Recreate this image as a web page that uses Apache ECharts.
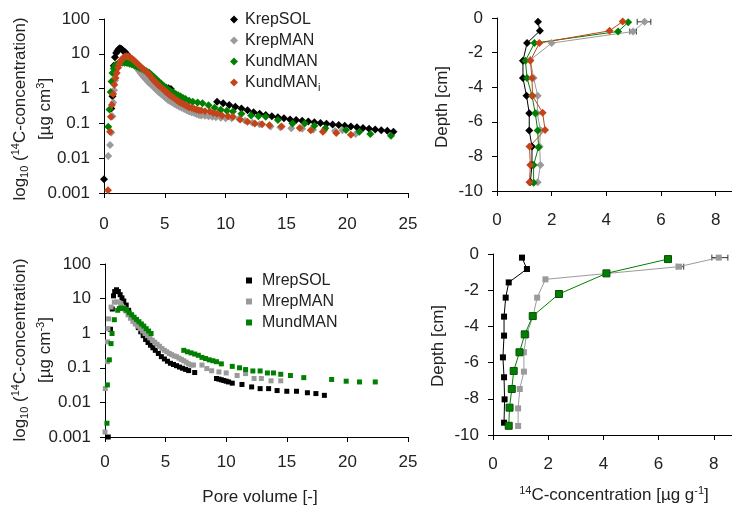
<!DOCTYPE html>
<html>
<head>
<meta charset="utf-8">
<script src="https://cdn.jsdelivr.net/npm/echarts@6/dist/echarts.min.js"></script>
<style>html,body{margin:0;padding:0;background:#fff}#c{width:732px;height:506px}</style>
</head>
<body>
<div id="c"></div>
<script>
// ---------- DATA ----------
// Top-left: pore volume vs concentration (log)
const krepSOL_pv = [[0,0.0025],[0.6,0.27],[0.7,0.6],[0.8,4.5],[0.9,8],[1.0,10.5],[1.1,12],[1.2,13.5],[1.3,14.5],[1.4,14],[1.5,13],[1.6,12],[1.75,11],[1.9,9.5],[2.1,8],[2.3,6.8],[2.5,5.6],[2.7,4.6],[2.9,3.9],[3.1,3.3],[3.3,2.8],[3.5,2.4],[3.7,2.1],[3.9,1.85],[4.1,1.65],[4.3,1.5],[4.5,1.35],[4.7,1.25],[4.9,1.15],[5.1,1.08],[5.3,1.02],[5.5,0.97],
  [9.3,0.42],[9.8,0.38],[10.3,0.34],[10.8,0.3],[11.3,0.27],[11.8,0.24],[12.3,0.21],[12.8,0.19],[13.3,0.175],[13.8,0.16],[14.3,0.15],[14.8,0.14],[15.3,0.13],[15.8,0.125],[16.3,0.12],[16.8,0.113],[17.3,0.108],[17.8,0.103],[18.3,0.098],[18.8,0.093],[19.3,0.09],[19.8,0.086],[20.3,0.082],[20.8,0.078],[21.3,0.074],[21.8,0.07],[22.3,0.067],[22.8,0.064],[23.3,0.061],[23.8,0.058]];
const krepMAN_pv = [[0.35,0.0115],[0.5,0.024],[0.6,0.055],[0.7,0.16],[0.76,0.4],[0.83,0.9],[0.9,1.7],[1.0,2.8],[1.1,3.9],[1.2,4.9],[1.3,5.7],[1.45,6.4],[1.6,6.9],[1.8,7.1],[1.95,6.9],[2.1,6.4],[2.25,5.8],[2.4,5.2],[2.55,4.6],[2.7,4.0],[2.85,3.3],[3.0,2.8],[3.15,2.4],[3.3,2.1],[3.45,1.85],[3.6,1.6],[3.75,1.42],[3.9,1.27],[4.05,1.15],[4.2,1.0],[4.35,0.9],[4.5,0.8],[4.65,0.72],[4.8,0.65],[4.95,0.59],[5.1,0.53],[5.25,0.48],[5.4,0.44],[5.6,0.4],[5.8,0.36],[6.0,0.33],[6.2,0.3],[6.4,0.28],[6.6,0.26],[6.8,0.24],[7.0,0.22],[7.2,0.21],[7.4,0.2],[7.6,0.185],[7.8,0.175],[8.0,0.17],[8.3,0.165],[8.6,0.16],[8.9,0.155],[9.2,0.15],[9.6,0.145],[10.0,0.14],[10.5,0.14],[11.1,0.135],[11.6,0.12],[12.2,0.105],[12.8,0.095],[13.7,0.082],[14.5,0.078],[15.4,0.072],[16.3,0.07],[17.2,0.066],[18.1,0.062],[19.0,0.06],[19.6,0.064],[20.7,0.05]];
const kundMAN_pv = [[0.35,0.08],[0.45,0.25],[0.55,0.8],[0.62,1.6],[0.7,2.8],[0.8,3.8],[0.9,4.5],[1.0,4.9],[1.15,5.2],[1.3,5.4],[1.5,5.5],[1.7,5.5],[1.9,5.4],[2.1,5.2],[2.3,4.9],[2.5,4.6],[2.7,4.3],[2.9,4.0],[3.1,3.7],[3.3,3.4],[3.5,3.15],[3.7,2.9],[3.9,2.5],[4.1,2.15],[4.3,1.85],[4.5,1.6],[4.7,1.4],[4.9,1.2],[5.1,1.05],[5.3,0.93],[5.5,0.84],[5.7,0.77],[5.9,0.7],[6.1,0.64],[6.3,0.59],[6.5,0.54],[6.7,0.5],[7.0,0.45],[7.3,0.42],[7.7,0.4],[8.1,0.38],[8.6,0.33],[9.1,0.28],[9.6,0.245],[10.1,0.23],[10.6,0.22],[11.3,0.19],[12.1,0.17],[12.7,0.16],[13.3,0.155],[14.3,0.126],[15.5,0.10],[16.5,0.10],[17.3,0.085],[18.2,0.073],[19.9,0.065],[21.0,0.058],[21.9,0.05],[23.6,0.044]];
const kundMANi_pv = [[0.33,0.0012],[0.5,0.058],[0.57,0.155],[0.65,0.34],[0.75,0.7],[0.85,1.3],[0.95,2.0],[1.05,2.8],[1.15,4.0],[1.25,5.0],[1.35,6.0],[1.45,6.8],[1.55,7.5],[1.7,8.2],[1.85,8.5],[2.0,8.3],[2.15,7.8],[2.3,7.2],[2.45,6.5],[2.6,5.8],[2.75,5.2],[2.9,4.6],[3.05,4.1],[3.2,3.7],[3.4,3.2],[3.6,2.8],[3.8,2.3],[4.0,1.9],[4.15,1.65],[4.3,1.45],[4.45,1.3],[4.6,1.15],[4.8,1.0],[5.0,0.87],[5.15,0.78],[5.3,0.7],[5.45,0.63],[5.6,0.58],[5.8,0.52],[6.0,0.46],[6.15,0.42],[6.3,0.39],[6.5,0.36],[6.7,0.33],[6.85,0.31],[7.0,0.29],[7.2,0.28],[7.4,0.265],[7.6,0.25],[7.8,0.24],[8.0,0.235],[8.3,0.225],[8.7,0.22],[9.0,0.2],[9.3,0.19],[9.7,0.17],[10.2,0.16],[10.6,0.155],[11.2,0.13],[11.8,0.112],[12.4,0.1],[13.0,0.095],[13.6,0.089],[14.6,0.082],[16.1,0.074],[17.0,0.064],[18.0,0.058],[19.1,0.053],[20.3,0.047]];

// Top-right: concentration vs depth
const krepSOL_d = [[1.5,-0.22],[1.57,-0.74],[1.1,-1.45],[0.95,-2.47],[0.95,-3.47],[1.08,-4.5],[1.18,-5.5],[1.18,-6.5],[1.28,-7.43],[1.28,-8.5],[1.22,-9.48]];
const krepMAN_d = [[5.4,-0.22],[4.98,-0.78],[2.0,-1.45],[1.22,-2.42],[1.34,-3.47],[1.49,-4.5],[1.47,-5.5],[1.59,-6.47],[1.56,-7.43],[1.59,-8.5],[1.49,-9.5]];
const kundMAN_d = [[4.8,-0.25],[4.43,-0.78],[1.37,-1.45],[1.04,-2.47],[1.1,-3.47],[1.28,-4.5],[1.4,-5.5],[1.49,-6.5],[1.52,-7.47],[1.34,-8.5],[1.34,-9.52]];
const kundMANi_d = [[4.6,-0.2],[4.12,-0.74],[1.55,-1.45],[1.22,-2.47],[1.28,-3.47],[1.3,-4.5],[1.67,-5.47],[1.76,-6.47],[1.19,-7.43],[1.22,-8.5],[1.19,-9.5]];
const krepMAN_err = [[-0.22,5.13,5.63],[-0.78,4.86,5.1]];

// Bottom-left: pore volume vs concentration (log)
const mrepSOL_pv = [[0.27,0.001],[0.45,1.3],[0.6,5],[0.7,12],[0.8,16],[0.95,18],[1.1,16],[1.25,13],[1.4,10.5],[1.55,8.5],[1.75,6.5],[1.95,4.6],[2.15,3.3],[2.35,2.5],[2.55,1.9],[2.75,1.45],[2.95,1.1],[3.15,0.85],[3.35,0.66],[3.55,0.54],[3.75,0.45],[3.95,0.38],[4.15,0.32],[4.4,0.26],[4.65,0.21],[4.9,0.18],[5.15,0.155],[5.4,0.135],[5.65,0.125],[5.9,0.115],[6.15,0.105],[6.4,0.097],[6.65,0.09],[6.9,0.083],[7.4,0.073],
  [9.2,0.049],[9.4,0.047],[9.6,0.045],[9.8,0.043],[10.0,0.041],[10.2,0.039],[10.5,0.036],[11.3,0.033],[12.1,0.028],[12.8,0.025],[13.5,0.025],[14.2,0.022],[15.0,0.021],[15.8,0.021],[16.7,0.019],[17.4,0.018],[18.1,0.016]];
const mrepMAN_pv = [[0,0.0014],[0.02,0.025],[0.2,0.15],[0.2,0.56],[0.25,1.35],[0.3,2.6],[0.5,5.7],[0.77,7.9],[1.0,8],[1.3,7.2],[1.5,5.6],[1.7,4.4],[1.9,3.4],[2.1,2.7],[2.3,2.2],[2.5,1.85],[2.7,1.6],[2.9,1.35],[3.1,1.15],[3.3,0.98],[3.5,0.85],[3.7,0.73],[3.9,0.63],[4.1,0.55],[4.3,0.48],[4.5,0.42],[4.7,0.36],[4.9,0.32],[5.1,0.29],[5.3,0.26],[5.5,0.24],[5.7,0.22],[5.9,0.21],[6.1,0.19],[6.3,0.175],[6.5,0.16],[6.7,0.145],[6.9,0.13],[7.1,0.12],[7.3,0.12],
  [8.0,0.12],[8.4,0.095],[8.8,0.082],[9.4,0.076],[10.0,0.071],[10.9,0.06],[11.6,0.068],[12.3,0.049],[12.9,0.049],[13.7,0.042],[14.5,0.042]];
const mundMAN_pv = [[0.16,0.0025],[0.2,0.032],[0.36,0.17],[0.5,0.5],[0.58,0.98],[0.77,2.45],[1.05,4.6],[1.2,5.2],[1.4,5.3],[1.6,5.1],[1.8,4.6],[2.0,3.9],[2.2,3.4],[2.4,2.9],[2.6,2.5],[2.8,2.15],[3.0,1.85],[3.2,1.6],[3.4,1.35],[3.6,1.15],[3.8,0.98],
  [6.5,0.32],[6.8,0.29],[7.1,0.27],[7.4,0.25],[7.7,0.23],[8.0,0.2],[8.3,0.185],[8.6,0.17],[8.9,0.16],[9.2,0.15],[9.6,0.13],
  [10.5,0.11],[11.1,0.10],[11.6,0.089],[12.2,0.081],[12.8,0.081],[13.4,0.071],[13.9,0.071],[14.5,0.065],[15.3,0.06],[16.4,0.052],[18.7,0.046],[19.9,0.041],[21.0,0.039],[22.3,0.039]];

// Bottom-right: concentration vs depth
const mrepSOL_d = [[1.05,-0.2],[1.23,-0.83],[0.57,-1.57],[0.46,-2.41],[0.4,-3.46],[0.4,-4.51],[0.36,-5.71],[0.4,-6.81],[0.42,-8.03],[0.4,-9.32]];
const mrepMAN_d = [[8.18,-0.2],[6.74,-0.7],[1.9,-1.4],[1.6,-2.41],[1.45,-3.44],[1.21,-4.48],[1.12,-5.43],[1.12,-6.5],[0.97,-7.46],[0.91,-8.53],[0.91,-9.5]];
const mundMAN_d = [[6.34,-0.28],[4.11,-1.07],[2.39,-2.21],[1.44,-3.43],[1.15,-4.44],[0.96,-5.43],[0.75,-6.46],[0.68,-7.46],[0.6,-8.49],[0.57,-9.49]];
const mrepMAN_err = [[-0.2,7.93,8.51],[-0.7,6.64,6.91]];

// Tick labels
const logTickLabels = ['0.001','0.01','0.1','1','10','100'];
const concTicks = [0, 2, 4, 6, 8];
const topLegend = ['KrepSOL','KrepMAN','KundMAN','KundMANi'];
const botLegend = ['MrepSOL','MrepMAN','MundMAN'];

// ---------- STYLE ----------
const FONT = "'Liberation Sans', Arial, sans-serif";
const TXT = '#222';
const COL = {black:'#000000', grey:'#9a9a9a', green:'#008000', red:'#c4441a'};

const axisCommon = {
  axisLine: {onZero: false, lineStyle: {color: '#000', width: 1}},
  axisTick: {length: 5, lineStyle: {color: '#000'}},
  splitLine: {show: false},
  axisLabel: {color: TXT, fontSize: 17, fontFamily: FONT}
};
function xPV(grid, margin) {
  return Object.assign({}, axisCommon, {gridIndex: grid, type: 'value', min: 0, max: 25, interval: 5,
    axisLabel: Object.assign({}, axisCommon.axisLabel, {margin: margin})});
}
function xConc(grid, max, margin) {
  return Object.assign({}, axisCommon, {gridIndex: grid, type: 'value', min: 0, max: max,
    axisTick: Object.assign({}, axisCommon.axisTick, {customValues: concTicks}),
    axisLabel: Object.assign({}, axisCommon.axisLabel, {margin: margin, customValues: concTicks})});
}
function yLog(grid) {
  return Object.assign({}, axisCommon, {gridIndex: grid, type: 'log', logBase: 10, min: 0.001, max: 100,
    axisLabel: Object.assign({}, axisCommon.axisLabel, {margin: 14,
      formatter: v => logTickLabels[Math.round(Math.log10(v)) + 3]})});
}
function yDepth(grid) {
  return Object.assign({}, axisCommon, {gridIndex: grid, type: 'value', min: -10, max: 0, interval: 2,
    axisLabel: Object.assign({}, axisCommon.axisLabel, {margin: 14})});
}

function scat(name, data, xi, color, symbol, size) {
  return {type: 'scatter', name: name, data: data, xAxisIndex: xi, yAxisIndex: xi,
    symbol: symbol, symbolSize: size, itemStyle: {color: color, opacity: 1}, silent: true};
}
function depthLine(name, data, xi, color, symbol, size, extra) {
  return Object.assign({type: 'line', name: name, data: data, xAxisIndex: xi, yAxisIndex: xi,
    symbol: symbol, symbolSize: size, showSymbol: true, showAllSymbol: true,
    lineStyle: {color: color, width: 1}, itemStyle: {color: color}, silent: true}, extra || {});
}
function errBars(data, xi, color) {
  return {type: 'custom', xAxisIndex: xi, yAxisIndex: xi, data: data, silent: true,
    encode: {x: [1, 2], y: 0},
    renderItem: function (params, api) {
      const d = api.value(0);
      const a = api.coord([api.value(1), d]);
      const b = api.coord([api.value(2), d]);
      const st = {stroke: color, lineWidth: 1};
      return {type: 'group', children: [
        {type: 'line', shape: {x1: a[0], y1: a[1], x2: b[0], y2: b[1]}, style: st},
        {type: 'line', shape: {x1: a[0], y1: a[1] - 3, x2: a[0], y2: a[1] + 3}, style: st},
        {type: 'line', shape: {x1: b[0], y1: b[1] - 3, x2: b[0], y2: b[1] + 3}, style: st}
      ]};
    }};
}

const rich = {
  a: {fontSize: 17, fontFamily: FONT, fill: TXT, color: TXT, lineHeight: 20},
  sub: {fontSize: 11, fontFamily: FONT, fill: TXT, color: TXT, lineHeight: 20, verticalAlign: 'bottom', padding: [6,0,0,0]},
  sup: {fontSize: 11, fontFamily: FONT, fill: TXT, color: TXT, lineHeight: 20, verticalAlign: 'top'}
};
function rtext(x, y, text, rot) {
  return {type: 'text', x: x, y: y, rotation: rot ? Math.PI / 2 : 0, silent: true,
    style: {text: text, rich: rich, fill: TXT, font: '17px ' + FONT, textAlign: 'center', textVerticalAlign: 'middle', align: 'center', verticalAlign: 'middle'}};
}

const chart = echarts.init(document.getElementById('c'), null, {renderer: 'canvas'});
chart.setOption({
  animation: false,
  backgroundColor: '#fff',
  textStyle: {fontFamily: FONT},
  grid: [
    {left: 104, top: 19, width: 304, height: 174},
    {left: 497, top: 18, width: 235, height: 173},
    {left: 105, top: 264, width: 303, height: 173},
    {left: 493, top: 254, width: 239, height: 181}
  ],
  xAxis: [xPV(0, 23), xConc(1, 8.6, 21), xPV(2, 17), xConc(3, 8.66, 21)],
  yAxis: [yLog(0), yDepth(1), yLog(2), yDepth(3)],
  legend: [
    {data: topLegend, orient: 'vertical', left: 230, top: 9, padding: 0, itemGap: 0,
     icon: 'diamond', itemWidth: 8, itemHeight: 8, selectedMode: false,
     formatter: n => n === 'KundMANi' ? '{a|KundMAN}{sub|i}' : '{a|' + n + '}',
     textStyle: {color: TXT, fontSize: 16, fontFamily: FONT, lineHeight: 21, padding: [0,0,0,2],
       rich: {a: {fontSize: 16, color: TXT, fontFamily: FONT, lineHeight: 21},
              sub: {fontSize: 11, color: TXT, fontFamily: FONT, lineHeight: 21, verticalAlign: 'bottom', padding: [8,0,0,0]}}}},
    {data: botLegend, orient: 'vertical', left: 246, top: 270, padding: 0, itemGap: 0,
     icon: 'rect', itemWidth: 6, itemHeight: 6, selectedMode: false,
     textStyle: {color: TXT, fontSize: 16, fontFamily: FONT, lineHeight: 21, padding: [0,0,0,5]}}
  ],
  graphic: [
    rtext(20, 109, '{a|log}{sub|10}{a| (}{sup|14}{a|C-concentration)}', true),
    rtext(45, 109, '{a|[µg cm}{sup|3}{a|]}', true),
    rtext(20, 350, '{a|log}{sub|10}{a| (}{sup|14}{a|C-concentration)}', true),
    rtext(45, 350, '{a|[µg cm}{sup|-3}{a|]}', true),
    rtext(442, 107, '{a|Depth [cm]}', true),
    rtext(438, 346, '{a|Depth [cm]}', true),
    rtext(260, 497, '{a|Pore volume [-]}', false),
    rtext(614, 495, '{sup|14}{a|C-concentration [µg g}{sup|-1}{a|]}', false)
  ],
  series: [
    scat('KrepSOL', krepSOL_pv, 0, COL.black, 'diamond', 8),
    scat('KrepMAN', krepMAN_pv, 0, COL.grey, 'diamond', 8),
    scat('KundMAN', kundMAN_pv, 0, COL.green, 'diamond', 8),
    scat('KundMANi', kundMANi_pv, 0, COL.red, 'diamond', 8),
    depthLine('KrepSOL', krepSOL_d, 1, COL.black, 'diamond', 8),
    depthLine('KrepMAN', krepMAN_d, 1, COL.grey, 'diamond', 8),
    depthLine('KundMAN', kundMAN_d, 1, COL.green, 'diamond', 8),
    depthLine('KundMANi', kundMANi_d, 1, COL.red, 'diamond', 8),
    errBars(krepMAN_err, 1, '#333'),
    scat('MrepSOL', mrepSOL_pv, 2, COL.black, 'rect', 5),
    scat('MrepMAN', mrepMAN_pv, 2, COL.grey, 'rect', 5),
    scat('MundMAN', mundMAN_pv, 2, COL.green, 'rect', 5),
    depthLine('MrepSOL', mrepSOL_d, 3, COL.black, 'rect', 6),
    depthLine('MrepMAN', mrepMAN_d, 3, COL.grey, 'rect', 6),
    depthLine('MundMAN', mundMAN_d, 3, COL.green, 'rect', 7,
      {itemStyle: {color: COL.green, borderColor: '#0a4d0a', borderWidth: 1}}),
    errBars(mrepMAN_err, 3, '#333')
  ]
});
</script>
</body>
</html>
